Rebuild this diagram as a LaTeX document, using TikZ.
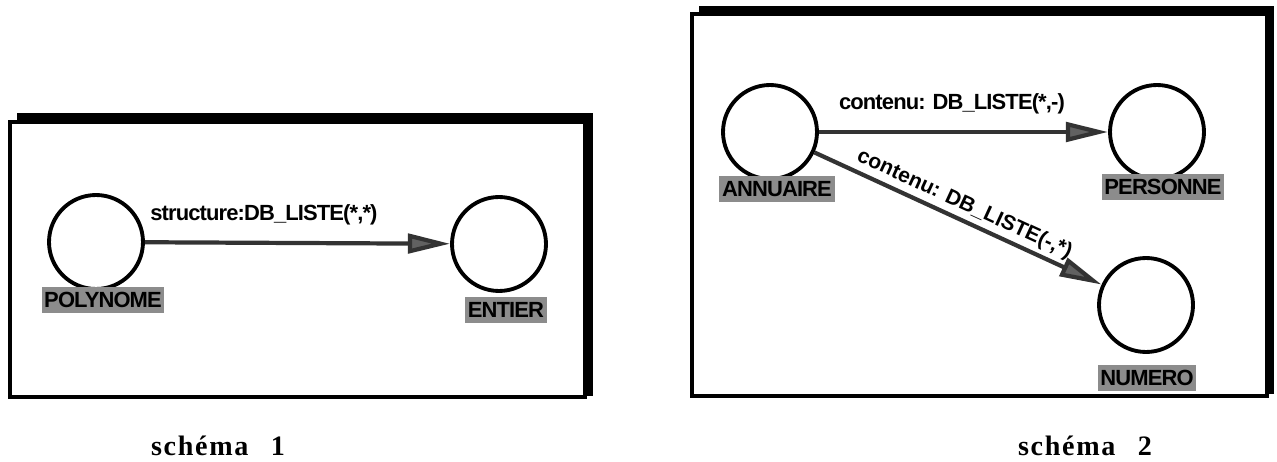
\documentclass[tikz,border=0pt]{standalone}
\usepackage{fontspec}
\setmainfont{Liberation Serif}
\newfontfamily\lsans{Liberation Sans}
\usetikzlibrary{arrows.meta}
\begin{document}
\begin{tikzpicture}[x=0.02cm,y=-0.02cm,
  ent/.style={circle, draw, line width=2.2pt, minimum size=1.88cm, inner sep=0pt},
  nlab/.style={fill=black!45, font=\lsans\bfseries\fontsize{12.5}{13}\selectfont\addfontfeature{LetterSpace=-4}, inner xsep=1.5pt, inner ysep=3pt, anchor=north},
  rel/.style={draw=black!80, line width=2.4pt, -{Triangle[length=24pt,width=11pt,fill=black!62]}},
  elab/.style={font=\lsans\bfseries\fontsize{12.5}{13}\selectfont\addfontfeature{LetterSpace=-4}, inner sep=1pt},
  dlab/.style={font=\lsans\bfseries\fontsize{12}{13}\selectfont, inner sep=1pt},
  frame/.style={draw, line width=1.8pt, fill=white},
  shadow/.style={fill=black},
  capt/.style={font=\bfseries\fontsize{16}{18}\selectfont\addfontfeature{LetterSpace=6}}
]
\useasboundingbox (0,0) rectangle (1277,462);
% box 1
\fill[shadow] (17,113) rectangle (593,396);
\draw[frame] (10,122) rectangle (585,397);
% box 2
\fill[shadow] (699,6) rectangle (1274,394);
\draw[frame] (692,14) rectangle (1267,396);

% schema 1
\node[ent] (poly) at (96,242) {};
\node[ent] (ent) at (499,244) {};
\node[nlab] (lpoly) at (103,287) {POLYNOME};
\node[nlab, minimum width=1.6cm] (lent) at (506,297) {ENTIER};
\draw[rel] (poly) -- (ent) node[pos=0.39, above=8pt, elab] {structure:DB\_LISTE(*,*)};

% schema 2
\node[ent] (ann) at (770,132) {};
\node[ent] (per) at (1157,132) {};
\node[ent] (num) at (1146,305) {};
\node[nlab] (lann) at (777,176) {ANNUAIRE};
\node[nlab] (lper) at (1163,174) {PERSONNE};
\node[nlab, minimum width=1.7cm] (lnum) at (1147,365) {NUMERO};
\draw[rel] (ann) -- (per) node[pos=0.46, above=8pt, elab] {contenu: DB\_LISTE(*,-)};
\draw[rel] (ann) -- (num) node[pos=0.5, above=1pt, sloped, dlab] {contenu: DB\_LISTE(-,*)};

% captions
\node[capt] (c1) at (218,446) {schéma\hspace{0.8em}1};
\node[capt] (c2) at (1085,446) {schéma\hspace{0.8em}2};
\end{tikzpicture}
\end{document}
